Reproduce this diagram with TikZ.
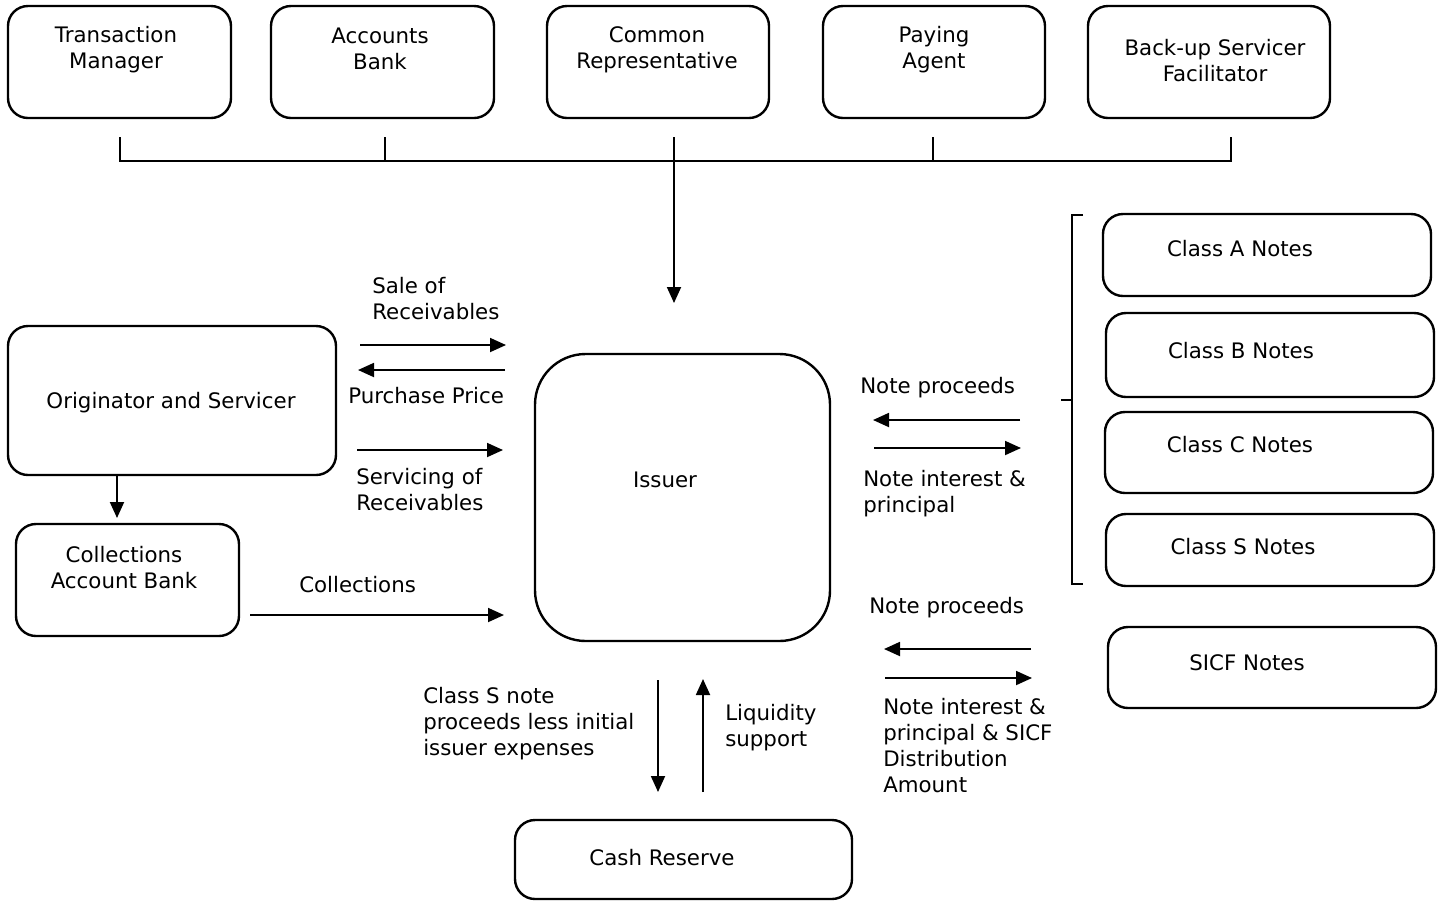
\documentclass[tikz,border=0pt]{standalone}
\usepackage{fontspec}
\setmainfont{DejaVu Sans}
\usetikzlibrary{arrows.meta,fit}
\begin{document}
\begin{tikzpicture}[x=0.75pt,y=-0.75pt,
  every node/.style={font=\fontsize{16}{19.5}\selectfont, inner sep=0pt},
  txt/.style={yshift=-2pt},
  box/.style={draw, line width=1.8pt, rounded corners=15pt, inner sep=0pt},
  bigbox/.style={draw, line width=1.8pt, rounded corners=38pt, inner sep=0pt},
  lbl/.style={txt, align=center},
  llbl/.style={txt, align=left, anchor=west},
  conn/.style={line width=1.4pt},
  arr/.style={line width=1.4pt, -{Triangle[length=12pt,width=10.5pt]}}]
\useasboundingbox (0,0) rectangle (1445,901);

% top boxes
\node[box, fit={(8,6) (231,118)}] (tm) {};
\node[lbl] (tmt) at (116,47) {Transaction\\Manager};
\node[box, fit={(271,6) (494,118)}] (ab) {};
\node[lbl] (abt) at (380,46) {Accounts\\Bank};
\node[box, fit={(547,6) (769,118)}] (cr) {};
\node[lbl] (crt) at (657,47) {Common\\Representative};
\node[box, fit={(823,6) (1045,118)}] (pa) {};
\node[lbl] (pat) at (934,47) {Paying\\Agent};
\node[box, fit={(1088,6) (1330,118)}] (bs) {};
\node[lbl] (bst) at (1215,58) {Back-up Servicer\\Facilitator};

% bus
\coordinate (s1) at (120,137); \coordinate (b1) at (120,161);
\coordinate (s2) at (385,137); \coordinate (b2) at (385,161);
\coordinate (s3) at (674,137); \coordinate (b3) at (674,161);
\coordinate (s4) at (933,137); \coordinate (b4) at (933,161);
\coordinate (s5) at (1231,137); \coordinate (b5) at (1231,161);
\coordinate (a3) at (674,303);
\draw[conn] (s1) -- (b1) -- (b5) -- (s5);
\draw[conn] (s2) -- (b2);
\draw[conn] (s4) -- (b4);
\draw[arr] (s3) -- (a3);

% issuer
\node[bigbox, fit={(535,354) (830,641)}] (iss) {};
\node[txt] (isst) at (665,477) {Issuer};

% originator
\node[box, fit={(8,326) (336,475)}] (orig) {};
\node[txt] (origt) at (171,400) {Originator and Servicer};
\node[box, fit={(16,524) (239,636)}] (cab) {};
\node[lbl] (cabt) at (124,565) {Collections\\Account Bank};
\coordinate (o1) at (117,475); \coordinate (o2) at (117,518);
\draw[arr] (o1) -- (o2);

% left arrows
\coordinate (sa1) at (360,345); \coordinate (sa2) at (506,345);
\draw[arr] (sa1) -- (sa2);
\node[llbl] (sat) at (372,296) {Sale of\\Receivables};
\coordinate (pp1) at (505,370); \coordinate (pp2) at (358,370);
\draw[arr] (pp1) -- (pp2);
\node[llbl] (ppt) at (348,393) {Purchase Price};
\coordinate (sv1) at (357,450); \coordinate (sv2) at (503,450);
\draw[arr] (sv1) -- (sv2);
\node[llbl] (svt) at (356,487) {Servicing of\\Receivables};
\coordinate (co1) at (250,615); \coordinate (co2) at (504,615);
\draw[arr] (co1) -- (co2);
\node[llbl] (cot) at (299,582) {Collections};

% right arrows
\coordinate (np1) at (1020,420); \coordinate (np2) at (873,420);
\draw[arr] (np1) -- (np2);
\node[llbl] (npt) at (860,385) {Note proceeds};
\coordinate (ni1) at (874,448); \coordinate (ni2) at (1021,448);
\draw[arr] (ni1) -- (ni2);
\node[llbl] (nit) at (863,491) {Note interest \&\\principal};
\coordinate (lp1) at (1031,649); \coordinate (lp2) at (884,649);
\draw[arr] (lp1) -- (lp2);
\node[llbl] (lpt) at (869,605) {Note proceeds};
\coordinate (li1) at (885,678); \coordinate (li2) at (1032,678);
\draw[arr] (li1) -- (li2);
\node[llbl] (lit) at (883,743) {Note interest \&\\principal \& SICF\\Distribution\\Amount};

% cash reserve arrows
\coordinate (cs1) at (658,680); \coordinate (cs2) at (658,792);
\draw[arr] (cs1) -- (cs2);
\node[llbl] (cst) at (423,721) {Class S note\\proceeds less initial\\issuer expenses};
\coordinate (ls1) at (703,792); \coordinate (ls2) at (703,679);
\draw[arr] (ls1) -- (ls2);
\node[llbl] (lst) at (725,725) {Liquidity\\support};

\node[box, fit={(515,820) (852,899)}] (cash) {};
\node[txt] (casht) at (662,855) {Cash Reserve};

% notes
\node[box, fit={(1103,214) (1431,296)}] (na) {};
\node[txt] (nat) at (1240,246) {Class A Notes};
\node[box, fit={(1106,313) (1434,397)}] (nb) {};
\node[txt] (nbt) at (1241,348) {Class B Notes};
\node[box, fit={(1105,412) (1433,493)}] (nc) {};
\node[txt] (nct) at (1240,442) {Class C Notes};
\node[box, fit={(1106,514) (1434,586)}] (ns) {};
\node[txt] (nst) at (1243,544) {Class S Notes};
\node[box, fit={(1108,627) (1436,708)}] (sicf) {};
\node[txt] (sicft) at (1247,660) {SICF Notes};

% bracket
\coordinate (br1) at (1083,215); \coordinate (br2) at (1072,215);
\coordinate (br3) at (1072,584); \coordinate (br4) at (1083,584);
\coordinate (brm) at (1072,400); \coordinate (brt) at (1061,400);
\draw[line width=1.2pt] (br1) -- (br2) -- (br3) -- (br4);
\draw[line width=1.2pt] (brm) -- (brt);
\end{tikzpicture}
\end{document}
